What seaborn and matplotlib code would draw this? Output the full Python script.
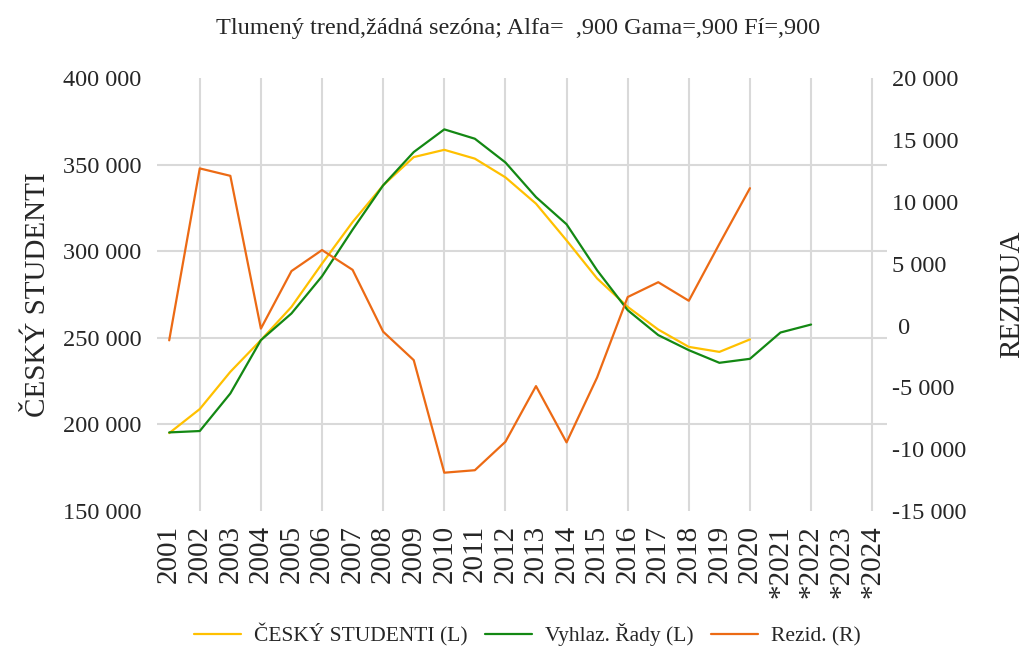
import seaborn as sns
import numpy as np
import pandas as pd
import matplotlib.pyplot as plt
from matplotlib.ticker import FuncFormatter

# Data
years = ['2001', '2002', '2003', '2004', '2005', '2006', '2007', '2008',
         '2009', '2010', '2011', '2012', '2013', '2014', '2015', '2016',
         '2017', '2018', '2019', '2020', '*2021', '*2022', '*2023', '*2024']

studenti = [195000, 208900, 230400, 248700, 267900, 292900, 316900, 338100,
            354400, 358600, 353500, 342700, 327500, 306300, 284300, 267900,
            254800, 244800, 241900, 249100]

vyhlaz = [195400, 196200, 217900, 248700, 264100, 285600, 312500, 338100,
          357300, 370400, 365000, 351300, 331300, 315600, 289000, 266000,
          251600, 242900, 235600, 237900, 253100, 257700]

rezid = [-1200, 12700, 12100, -250, 4400, 6100, 4500, -500,
         -2800, -11900, -11700, -9400, -4900, -9450, -4200, 2300,
         3500, 2000, 6600, 11100]

c_yellow = '#FFC000'
c_green = '#138813'
c_orange = '#EC6A14'

sns.set_style('white')
plt.rcParams['font.family'] = ['Liberation Serif', 'DejaVu Serif']

df_s = pd.DataFrame({'pos': np.arange(len(studenti)), 'val': studenti})
df_v = pd.DataFrame({'pos': np.arange(len(vyhlaz)), 'val': vyhlaz})
df_r = pd.DataFrame({'pos': np.arange(len(rezid)), 'val': rezid})

fig = plt.figure(figsize=(10.26, 6.51), dpi=100)
ax = fig.add_axes([0.153, 0.215, 0.712, 0.665])
ax2 = ax.twinx()

sns.lineplot(data=df_s, x='pos', y='val', ax=ax, color=c_yellow, linewidth=1.6,
             label='ČESKÝ STUDENTI (L)', legend=False)
sns.lineplot(data=df_v, x='pos', y='val', ax=ax, color=c_green, linewidth=1.6,
             label='Vyhlaz. Řady (L)', legend=False)
sns.lineplot(data=df_r, x='pos', y='val', ax=ax2, color=c_orange, linewidth=1.6,
             label='Rezid. (R)', legend=False)

ax.set_xlim(-0.4, len(years) - 0.5)
ax.set_ylim(150000, 400000)
ax2.set_ylim(-15000, 20000)

ax.set_xticks(np.arange(len(years)))
ax.set_xticklabels(years, rotation=90, fontsize=21)
ax.set_yticks(np.arange(150000, 400001, 50000))
ax2.set_yticks(np.arange(-15000, 20001, 5000))

fmt = FuncFormatter(lambda v, p: f"{v:,.0f}".replace(',', ' '))
fmt_r = FuncFormatter(lambda v, p: ' 0' if v == 0 else f"{v:,.0f}".replace(',', ' '))
ax.yaxis.set_major_formatter(fmt)
ax2.yaxis.set_major_formatter(fmt_r)
ax.tick_params(axis='y', labelsize=17.5, length=0, pad=11)
ax2.tick_params(axis='y', labelsize=17.5, length=0, pad=3)
ax.tick_params(axis='x', which='both', length=0, pad=10)

# grid: vertical lines on every other year, horizontal on inner left ticks
ax.grid(False)
ax2.grid(False)
for xv in np.arange(1, len(years), 2):
    ax.axvline(xv, color='#D9D9D9', linewidth=1.5, zorder=0)
for yv in [200000, 250000, 300000, 350000]:
    ax.axhline(yv, color='#D9D9D9', linewidth=1.5, zorder=0)

for a in (ax, ax2):
    for s in a.spines.values():
        s.set_visible(False)

ax.set_xlabel('')
ax.set_ylabel('ČESKÝ STUDENTI', fontsize=21, labelpad=9)
ax2.set_ylabel('REZIDUA', fontsize=21, labelpad=24)

fig.suptitle('Tlumený trend,žádná sezóna; Alfa=  ,900 Gama=,900 Fí=,900',
             fontsize=17.5, x=0.505, y=0.972)

h1, l1 = ax.get_legend_handles_labels()
h2, l2 = ax2.get_legend_handles_labels()
fig.legend(h1 + h2, l1 + l2, loc='center', bbox_to_anchor=(0.514, 0.025),
           ncol=3, frameon=False, fontsize=15.5, handlelength=2.2,
           columnspacing=0.8, handletextpad=0.6)

fig.savefig('out.png', dpi=100)
